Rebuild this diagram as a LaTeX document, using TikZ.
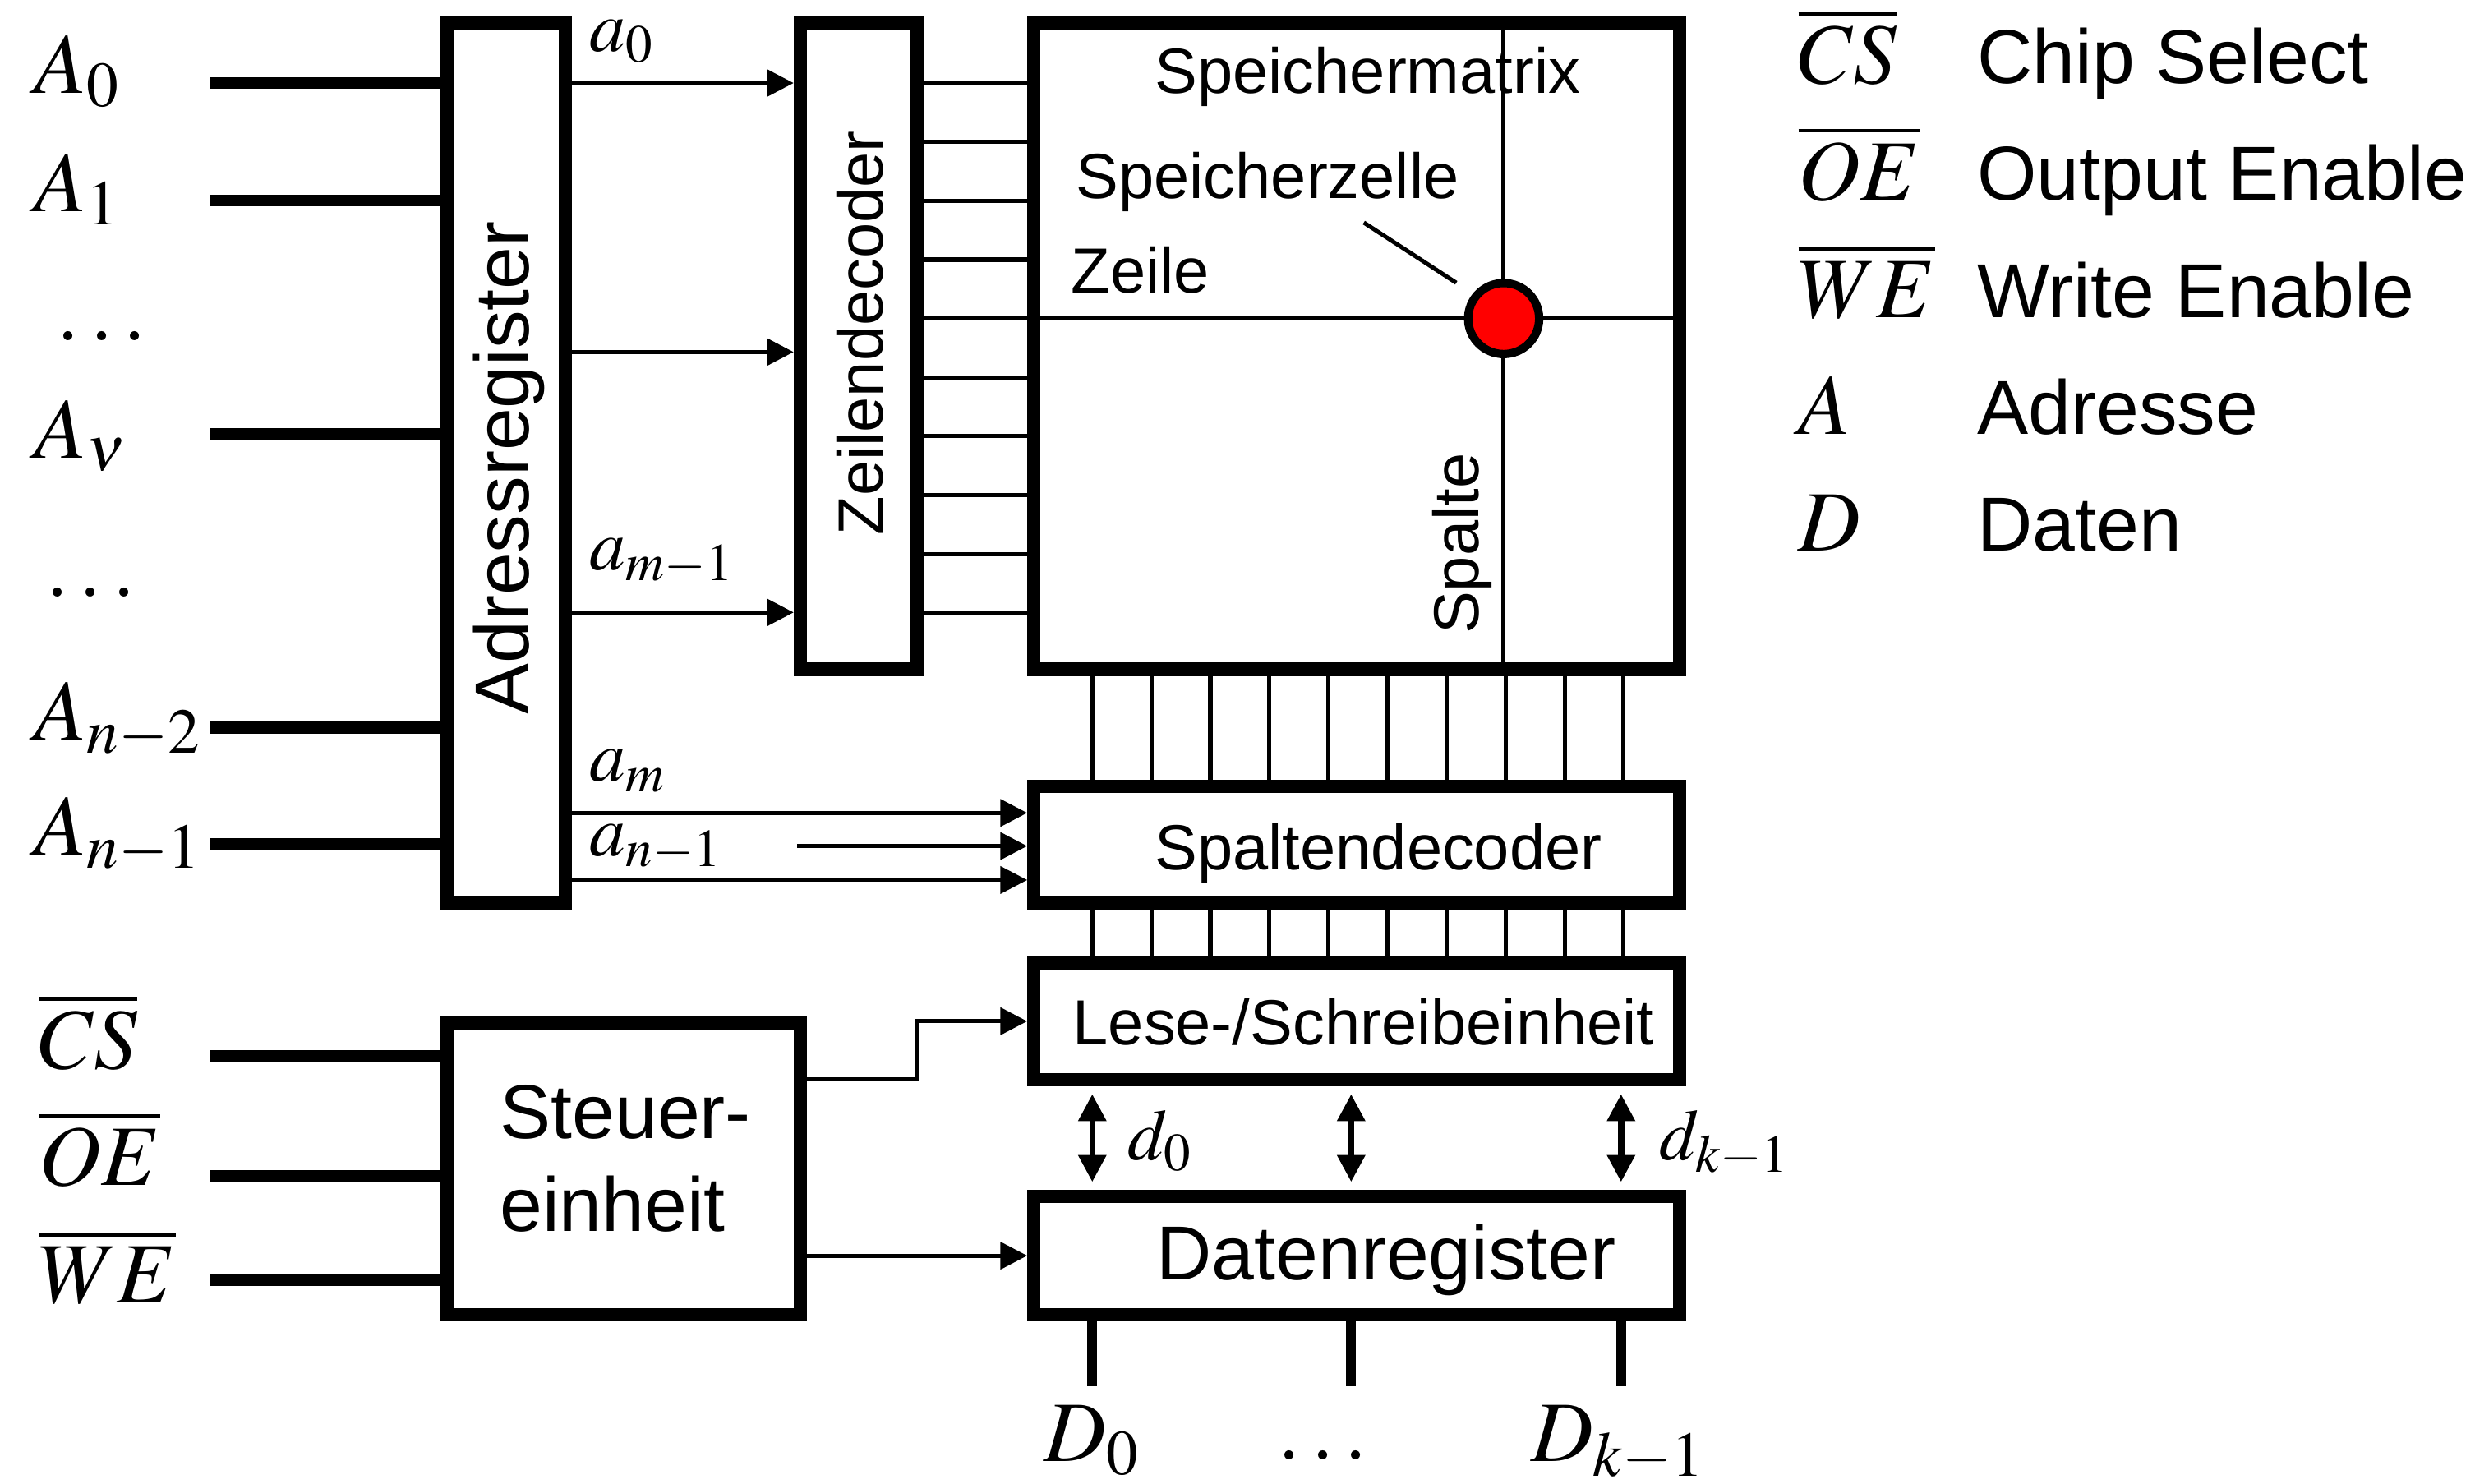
\documentclass[tikz,border=0pt]{standalone}
\usepackage{mathptmx}
\usepackage[no-math]{fontspec}
\setmainfont{Liberation Sans}
\usetikzlibrary{arrows.meta,calc}

\begin{document}
\begin{tikzpicture}[
  >={Triangle[length=1.7mm,width=1.7mm]},
  box/.style={rectangle,draw,line width=2.4pt,inner sep=0pt},
  bus/.style={line width=2.2pt},
  dbus/.style={line width=1.8pt},
  wire/.style={line width=0.75pt},
  sig/.style={->,line width=0.75pt},
  bidir/.style={<->,line width=1.1pt,shorten <=0.5mm,shorten >=0.5mm},
  txt/.style={inner sep=0pt,font=\fontsize{11.5}{13}\selectfont},
  bigtxt/.style={inner sep=0pt,font=\fontsize{13.8}{16.8}\selectfont},
  sym/.style={inner sep=0pt,font=\fontsize{15.5}{18}\selectfont},
  ssym/.style={inner sep=0pt,font=\fontsize{13}{15}\selectfont},
]
  \useasboundingbox (0,0) rectangle (15.68,9.40);

  % blocks
  \node[box,minimum width=7.5mm,minimum height=55.75mm] (adr) at (3.205,6.4675) {};
  \node[box,minimum width=7.4mm,minimum height=40.95mm] (zdec) at (5.44,7.2075) {};
  \node[box,minimum width=40.9mm,minimum height=40.95mm] (mat) at (8.595,7.2075) {};
  \node[box,minimum width=40.9mm,minimum height=7.4mm] (sdec) at (8.595,4.05) {};
  \node[box,minimum width=40.9mm,minimum height=7.4mm] (rw) at (8.595,2.93) {};
  \node[box,minimum width=40.9mm,minimum height=7.5mm] (dreg) at (8.595,1.445) {};
  \node[box,minimum width=22.4mm,minimum height=18.5mm] (steu) at (3.95,1.995) {};

  % block texts
  \node[bigtxt,rotate=90] (adrlbl) at (3.225,6.435) {Adressregister};
  \node[txt,rotate=90] (zdeclbl) at (5.45,7.29) {Zeilendecoder};
  \node[txt,anchor=base west] (matlbl) at (7.31,8.808) {Speichermatrix};
  \node[txt,anchor=base west] (sdeclbl) at (7.31,3.891) {Spaltendecoder};
  \node[txt,anchor=base west] (rwlbl) at (6.79,2.78) {Lese-/Schreibeinheit};
  \node[bigtxt,anchor=base west] (dreglbl) at (7.32,1.29) {Datenregister};
  \node[bigtxt,anchor=west,align=left] (steulbl) at (3.16,2.06) {Steuer-\\einheit};

  % memory cell in the matrix
  \coordinate (cellc) at (9.526,7.382);
  \draw[wire] (mat.north -| cellc) -- (mat.south -| cellc);
  \draw[wire] (mat.west |- cellc) -- (mat.east |- cellc);
  \node[circle,draw,fill=red,line width=1.5pt,minimum size=4.5mm,inner sep=0pt] (cell) at (cellc) {};
  \node[txt,anchor=base west] (zellelbl) at (6.81,8.144) {Speicherzelle};
  \node[txt,anchor=base west] (zeilelbl) at (6.78,7.544) {Zeile};
  \node[txt,rotate=90] (spaltelbl) at (9.265,5.955) {Spalte};
  \coordinate (ptr) at (8.64,7.99);
  \draw[wire,shorten >=1.25mm] (ptr) -- (cell.141);

  % row and column lines
  \foreach \i [evaluate=\i as \y using 8.874-0.373*\i] in {0,...,9}
    \draw[wire] (zdec.east |- 0,\y) -- (mat.west |- 0,\y);
  \foreach \i [evaluate=\i as \x using 6.92+0.374*\i] in {0,...,9} {
    \draw[wire] (mat.south -| \x,0) -- (sdec.north -| \x,0);
    \draw[wire] (sdec.south -| \x,0) -- (rw.north -| \x,0);
  }

  % address inputs
  \foreach \y [count=\i] in {8.874,8.13,6.65,4.79,4.05} {
    \coordinate (in\i) at (1.33,\y);
    \draw[bus] (in\i) -- (adr.west |- in\i);
  }
  \node[sym,anchor=base west] (lA0) at (0.21,8.81) {$A_0$};
  \node[sym,anchor=base west] (lA1) at (0.21,8.06) {$A_1$};
  \node[sym,anchor=base west] (ldots1) at (0.35,7.24) {$\dots$};
  \node[sym,anchor=base west] (lAnu) at (0.21,6.50) {$A_\nu$};
  \node[sym,anchor=base west] (ldots2) at (0.28,5.62) {$\dots$};
  \node[sym,anchor=base west] (lAn2) at (0.21,4.71) {$A_{n-2}$};
  \node[sym,anchor=base west] (lAn1) at (0.21,3.984) {$A_{n-1}$};

  % internal address lines
  \foreach \y in {8.874,7.17,5.52}
    \draw[sig] (adr.east |- 0,\y) -- (zdec.west |- 0,\y);
  \draw[sig] (adr.east |- 0,4.25) -- (sdec.west |- 0,4.25);
  \draw[sig] (adr.east |- 0,3.825) -- (sdec.west |- 0,3.825);
  \coordinate (amid) at (5.05,4.04);
  \draw[sig] (amid) -- (sdec.west |- amid);
  \node[ssym,anchor=base west] (la0) at (3.73,9.075) {$a_0$};
  \node[ssym,anchor=base west] (lam1) at (3.73,5.79) {$a_{m-1}$};
  \node[ssym,anchor=base west] (lam) at (3.73,4.453) {$a_m$};
  \node[ssym,anchor=base west] (lan1) at (3.73,3.98) {$a_{n-1}$};

  % control inputs and outputs
  \foreach \y [count=\i] in {2.71,1.95,1.29} {
    \coordinate (ctl\i) at (1.33,\y);
    \draw[bus] (ctl\i) -- (steu.west |- ctl\i);
  }
  \node[sym,anchor=base west] (lcs) at (0.24,2.63) {$\overline{CS}$};
  \node[sym,anchor=base west] (loe) at (0.24,1.89) {$\overline{OE}$};
  \node[sym,anchor=base west] (lwe) at (0.24,1.144) {$\overline{WE}$};
  \draw[sig] (steu.east |- 0,2.564) -- ++(0.70,0) |- (rw.west);
  \draw[sig] (steu.east |- dreg.west) -- (dreg.west);

  % data path
  \foreach \x [count=\i] in {6.92,8.56,10.27} {
    \draw[bidir] (rw.south -| \x,0) -- (dreg.north -| \x,0);
    \coordinate (dout\i) at (\x,0.62);
    \draw[dbus] (dreg.south -| dout\i) -- (dout\i);
  }
  \node[ssym,anchor=base west] (ld0) at (7.14,2.052) {$d_0$};
  \node[ssym,anchor=base west] (ldk) at (10.506,2.052) {$d_{k-1}$};
  \node[sym,anchor=base] (lD0) at (6.92,0.14) {$D_0$};
  \node[sym,anchor=base] (lDdots) at (8.38,0.15) {$\dots$};
  \node[sym,anchor=base] (lDk) at (10.255,0.14) {$D_{k-1}$};

  % legend
  \foreach \s/\t [count=\i] in {\overline{CS}/Chip Select,\overline{OE}/Output Enable,
      \overline{WE}/Write Enable,A/Adresse,D/Daten} {
    \node[sym,anchor=base west] (lsym\i) at (11.386,{9.61-0.74*\i}) {$\s$};
    \node[bigtxt,anchor=base west] (ltxt\i) at (12.52,{9.61-0.74*\i}) {\t};
  }
\end{tikzpicture}
\end{document}
